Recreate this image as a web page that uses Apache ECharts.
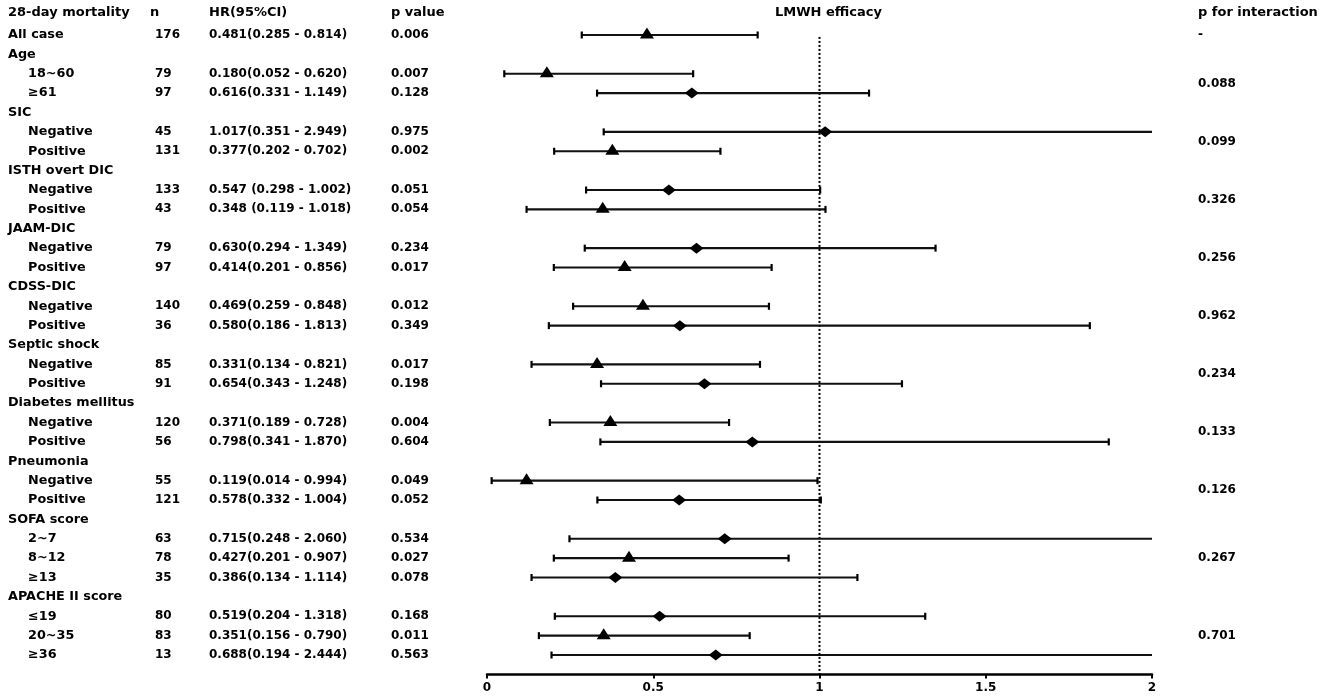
<!DOCTYPE html>
<html>
<head>
<meta charset="utf-8">
<script src="https://cdn.jsdelivr.net/npm/echarts@6/dist/echarts.min.js"></script>
<style>
html,body{margin:0;padding:0;background:#fff;}
#c{width:1325px;height:698px;}
</style>
</head>
<body>
<div id="c"></div>
<script>
// ---- data ----
const labels = ['All case','Age','18~60','\u226561','SIC','Negative','Positive','ISTH overt DIC','Negative','Positive',
  'JAAM-DIC','Negative','Positive','CDSS-DIC','Negative','Positive','Septic shock','Negative','Positive',
  'Diabetes mellitus','Negative','Positive','Pneumonia','Negative','Positive','SOFA score','2~7','8~12','\u226513',
  'APACHE II score','\u226419','20~35','\u226536'];
const indent = [0,0,1,1,0,1,1,0,1,1,0,1,1,0,1,1,0,1,1,0,1,1,0,1,1,0,1,1,1,0,1,1,1];
const nVals = [176,null,79,97,null,45,131,null,133,43,null,79,97,null,140,36,null,85,91,null,120,56,null,55,121,null,63,78,35,null,80,83,13];
const hr = [0.481,null,0.180,0.616,null,1.017,0.377,null,0.547,0.348,null,0.630,0.414,null,0.469,0.580,null,0.331,0.654,null,0.371,0.798,null,0.119,0.578,null,0.715,0.427,0.386,null,0.519,0.351,0.688];
const lo = [0.285,null,0.052,0.331,null,0.351,0.202,null,0.298,0.119,null,0.294,0.201,null,0.259,0.186,null,0.134,0.343,null,0.189,0.341,null,0.014,0.332,null,0.248,0.201,0.134,null,0.204,0.156,0.194];
const hi = [0.814,null,0.620,1.149,null,2.949,0.702,null,1.002,1.018,null,1.349,0.856,null,0.848,1.813,null,0.821,1.248,null,0.728,1.870,null,0.994,1.004,null,2.060,0.907,1.114,null,1.318,0.790,2.444];
const hrText = ['0.481(0.285 - 0.814)',null,'0.180(0.052 - 0.620)','0.616(0.331 - 1.149)',null,'1.017(0.351 - 2.949)','0.377(0.202 - 0.702)',null,
  '0.547 (0.298 - 1.002)','0.348 (0.119 - 1.018)',null,'0.630(0.294 - 1.349)','0.414(0.201 - 0.856)',null,'0.469(0.259 - 0.848)','0.580(0.186 - 1.813)',null,
  '0.331(0.134 - 0.821)','0.654(0.343 - 1.248)',null,'0.371(0.189 - 0.728)','0.798(0.341 - 1.870)',null,'0.119(0.014 - 0.994)','0.578(0.332 - 1.004)',null,
  '0.715(0.248 - 2.060)','0.427(0.201 - 0.907)','0.386(0.134 - 1.114)',null,'0.519(0.204 - 1.318)','0.351(0.156 - 0.790)','0.688(0.194 - 2.444)'];
const pVals = ['0.006',null,'0.007','0.128',null,'0.975','0.002',null,'0.051','0.054',null,'0.234','0.017',null,'0.012','0.349',null,
  '0.017','0.198',null,'0.004','0.604',null,'0.049','0.052',null,'0.534','0.027','0.078',null,'0.168','0.011','0.563'];
const marker = ['tri',null,'tri','dia',null,'dia','tri',null,'dia','tri',null,'dia','tri',null,'tri','dia',null,'tri','dia',null,'tri','dia',null,'tri','dia',null,'dia','tri','dia',null,'dia','tri','dia'];
const pInterRow = [0, 2.5, 5.5, 8.5, 11.5, 14.5, 17.5, 20.5, 23.5, 27, 31];
const pInterText = ['-','0.088','0.099','0.326','0.256','0.962','0.234','0.133','0.126','0.267','0.701'];
const xTicks = [0, 0.5, 1, 1.5, 2];
const refValue = 1;

// ---- layout ----
const X_MIN = 0, X_MAX = 2;
const FONT = 'bold 12.8px "DejaVu Sans", sans-serif';
const FONT_H = 'bold 13px "DejaVu Sans", sans-serif';
const FONT_N = 'bold 12px "DejaVu Sans", sans-serif';
const COL = {label:8, sub:28, n:155, hr:209, p:391, pint:1198};
const ROWS = labels.length;

const ciData = [], triData = [], diaData = [], textData = [];
for (let i = 0; i < ROWS; i++) {
  textData.push([0, i]);
  if (hr[i] == null) continue;
  ciData.push([lo[i], hi[i], i]);
  if (marker[i] === 'tri') triData.push([hr[i], i]); else diaData.push([hr[i], i]);
}

const chart = echarts.init(document.getElementById('c'));

function txt(x, y, s, font, align) {
  return {type:'text', style:{x:x, y:y, text:s, fill:'#000', font:font, align:align||'left', verticalAlign:'middle', textAlign:align||'left', textVerticalAlign:'middle'}};
}

chart.setOption({
  animation:false,
  backgroundColor:'#fff',
  grid:{left:487, right:173, top:25.3, bottom:23.6, containLabel:false},
  xAxis:{type:'value', min:X_MIN, max:X_MAX, interval:0.5, position:'bottom',
    axisLine:{show:true, onZero:false, lineStyle:{color:'#000', width:2.5}},
    axisTick:{show:true, length:4, lineStyle:{color:'#000', width:2}},
    axisLabel:{color:'#000', fontSize:12, fontWeight:'bold', fontFamily:'DejaVu Sans', margin:7,
      customValues: xTicks, formatter:v=>String(v)},
    splitLine:{show:false}},
  yAxis:{type:'value', min:-0.5, max:ROWS, inverse:true, show:false},
  graphic:[
    txt(COL.label, 13, '28-day mortality', FONT_H),
    txt(150, 13, 'n', FONT_H),
    txt(COL.hr, 13, 'HR(95%CI)', FONT_H),
    txt(COL.p, 13, 'p value', FONT_H),
    txt(775, 13, 'LMWH efficacy', FONT_H),
    txt(COL.pint, 13, 'p for interaction', FONT_H)
  ],
  series:[
    { type:'line', silent:true, symbol:'none', data:[[refValue,0.1],[refValue,ROWS]],
      lineStyle:{color:'#000', width:2, type:[2,2]}, z:1 },
    { type:'custom', data:ciData, clip:false, z:2,
      renderItem:function(params, api){
        const l = api.value(0), h = api.value(1), r = api.value(2);
        const hc = Math.min(h, X_MAX);
        const p1 = api.coord([l, r]), p2 = api.coord([hc, r]);
        const st = {stroke:'#111', lineWidth:2.2};
        const ch = [{type:'line', shape:{x1:p1[0], y1:p1[1], x2:p2[0], y2:p2[1]}, style:st}];
        ch.push({type:'line', shape:{x1:p1[0], y1:p1[1]-3.5, x2:p1[0], y2:p1[1]+3.5}, style:{stroke:'#000', lineWidth:2.2}});
        if (h <= X_MAX) ch.push({type:'line', shape:{x1:p2[0], y1:p2[1]-3.5, x2:p2[0], y2:p2[1]+3.5}, style:{stroke:'#000', lineWidth:2.2}});
        return {type:'group', children:ch};
      }},
    { type:'scatter', data:triData, symbol:'triangle', symbolSize:[14,11], symbolOffset:[0,-2],
      itemStyle:{color:'#000', opacity:1}, z:3 },
    { type:'scatter', data:diaData, symbol:'diamond', symbolSize:[14,11],
      itemStyle:{color:'#000', opacity:1}, z:3 },
    { type:'custom', data:textData, clip:false, z:4, silent:true,
      renderItem:function(params, api){
        const i = api.value(1);
        const y = api.coord([0, i])[1];
        const ch = [txt(indent[i] ? COL.sub : COL.label, y, labels[i], FONT)];
        if (nVals[i] != null) ch.push(txt(COL.n, y, String(nVals[i]), FONT_N));
        if (hrText[i] != null) ch.push(txt(COL.hr, y, hrText[i], FONT_N));
        if (pVals[i] != null) ch.push(txt(COL.p, y, pVals[i], FONT_N));
        return {type:'group', children:ch};
      }},
    { type:'custom', data:pInterRow.map((r,k)=>[0, r, k]), clip:false, z:4, silent:true,
      renderItem:function(params, api){
        const y = api.coord([0, api.value(1)])[1];
        return txt(COL.pint, y, pInterText[api.value(2)], FONT_N);
      }}
  ]
});
</script>
</body>
</html>
